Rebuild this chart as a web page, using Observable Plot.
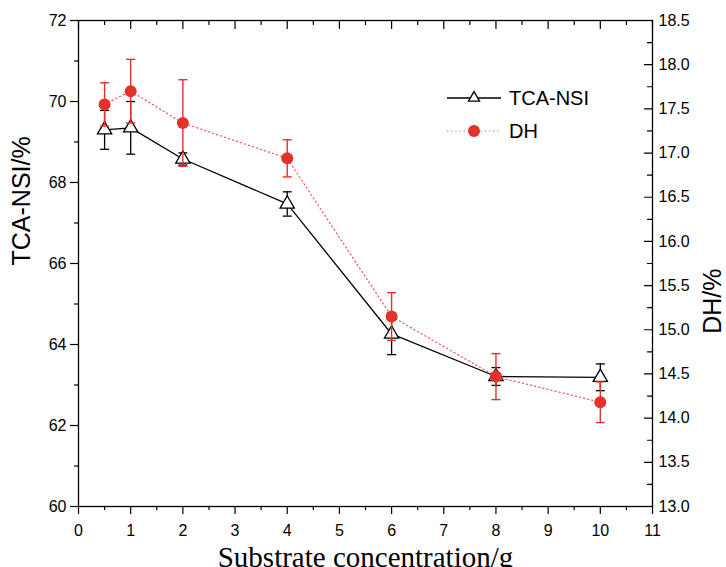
<!DOCTYPE html>
<html>
<head>
<meta charset="utf-8">
<script src="https://cdn.jsdelivr.net/npm/d3@7"></script>
<script src="https://cdn.jsdelivr.net/npm/@observablehq/plot@0.6"></script>
<style>
  html, body { margin: 0; padding: 0; background: #fff; }
  #wrap { position: relative; width: 726px; height: 567px; overflow: hidden; }
  #legend { position: absolute; left: 0; top: 0; pointer-events: none; }
</style>
</head>
<body>
<div id="wrap"></div>
<script>
// ---- data ----
const concentration = [0.5, 1, 2, 4, 6, 8, 10];
const tcaNsi    = [69.30, 69.35, 68.58, 67.47, 64.26, 63.21, 63.19];
const tcaNsiErr = [0.48, 0.65, 0.15, 0.30, 0.51, 0.22, 0.33];
const dhValues  = [17.55, 17.70, 17.34, 16.94, 15.15, 14.47, 14.18];
const dhErr     = [0.245, 0.36, 0.49, 0.21, 0.27, 0.26, 0.23];

const xMajorTicks = [0,1,2,3,4,5,6,7,8,9,10,11];
const xMinorTicks = [0.5,1.5,2.5,3.5,4.5,5.5,6.5,7.5,8.5,9.5,10.5];
const leftMajorTicks = [60,62,64,66,68,70,72];
const leftMinorTicks = [61,63,65,67,69,71];
const rightMajorTicks = [13.0,13.5,14.0,14.5,15.0,15.5,16.0,16.5,17.0,17.5,18.0,18.5];
const rightMinorTicks = [13.25,13.75,14.25,14.75,15.25,15.75,16.25,16.75,17.25,17.75,18.25];

const leftDomain = [60, 72];
const rightDomain = [13.0, 18.5];

// map right-axis (DH) values onto the left scale
const toLeft = v => leftDomain[0] + (v - rightDomain[0]) * (leftDomain[1] - leftDomain[0]) / (rightDomain[1] - rightDomain[0]);
const fromLeft = v => rightDomain[0] + (v - leftDomain[0]) * (rightDomain[1] - rightDomain[0]) / (leftDomain[1] - leftDomain[0]);

const tca = concentration.map((x, i) => ({x, v: tcaNsi[i], e: tcaNsiErr[i]}));
const dh  = concentration.map((x, i) => ({x, v: dhValues[i], e: dhErr[i]}));

const RED = "#e2322a";
const FONT = "'Liberation Sans', Arial, sans-serif";

const tickShape = {draw(context, l) { context.moveTo(0, 0); context.lineTo(0, -l); }};
const capSymbol = {draw(context, size) { const r = Math.sqrt(size / Math.PI); context.moveTo(-r, 0); context.lineTo(r, 0); }};

const chart = Plot.plot({
  width: 726, height: 567,
  marginTop: 20, marginRight: 74, marginBottom: 61, marginLeft: 78,
  x: {domain: [0, 11]},
  y: {domain: leftDomain},
  style: {fontFamily: FONT, fontSize: "16px", color: "black", background: "white"},
  marks: [
    // bottom axis
    Plot.axisX(xMajorTicks, {anchor: "bottom", tickSize: 8, tickPadding: 10, fontSize: 16, label: null, strokeWidth: 1.2}),
    Plot.axisX(xMinorTicks, {anchor: "bottom", tickSize: 4, tickFormat: () => "", label: null, strokeWidth: 1.2}),
    // top inward ticks
    Plot.vector(xMajorTicks, {x: d => d, frameAnchor: "top", length: 8, rotate: 180, anchor: "start", shape: tickShape, stroke: "black", strokeWidth: 1.2}),
    Plot.vector(xMinorTicks, {x: d => d, frameAnchor: "top", length: 4, rotate: 180, anchor: "start", shape: tickShape, stroke: "black", strokeWidth: 1.2}),
    // left axis
    Plot.axisY(leftMajorTicks, {anchor: "left", tickSize: 8, tickPadding: 4, fontSize: 16, label: null, strokeWidth: 1.2}),
    Plot.axisY(leftMinorTicks, {anchor: "left", tickSize: 4, tickFormat: () => "", label: null, strokeWidth: 1.2}),
    // right axis (DH)
    Plot.axisY(rightMajorTicks.map(toLeft), {anchor: "right", tickSize: 0, tickPadding: 6, fontSize: 16, label: null, tickFormat: d => fromLeft(d).toFixed(1)}),
    Plot.vector(rightMajorTicks.map(toLeft), {y: d => d, frameAnchor: "right", length: 8, rotate: 270, anchor: "start", shape: tickShape, stroke: "black", strokeWidth: 1.2}),
    Plot.vector(rightMinorTicks.map(toLeft), {y: d => d, frameAnchor: "right", length: 5, rotate: 270, anchor: "start", shape: tickShape, stroke: "black", strokeWidth: 1.2}),
    Plot.frame({stroke: "black", strokeWidth: 1.3}),

    // TCA-NSI series
    Plot.ruleX(tca, {x: "x", y1: d => d.v - d.e, y2: d => d.v + d.e, stroke: "black", strokeWidth: 1.3}),
    Plot.dot(tca, {x: "x", y: d => d.v + d.e, symbol: capSymbol, r: 4.5, stroke: "black", fill: "none", strokeWidth: 1.3}),
    Plot.dot(tca, {x: "x", y: d => d.v - d.e, symbol: capSymbol, r: 4.5, stroke: "black", fill: "none", strokeWidth: 1.3}),
    Plot.line(tca, {x: "x", y: "v", stroke: "black", strokeWidth: 1.3}),
    Plot.dot(tca, {x: "x", y: "v", symbol: "triangle", r: 5.3, stroke: "black", fill: "white", strokeWidth: 1.3}),

    // DH series (mapped to left scale)
    Plot.line(dh, {x: "x", y: d => toLeft(d.v), stroke: RED, strokeOpacity: 0.8, strokeWidth: 1.2, strokeDasharray: "1.2,3"}),
    Plot.ruleX(dh, {x: "x", y1: d => toLeft(d.v - d.e), y2: d => toLeft(d.v + d.e), stroke: RED, strokeWidth: 1.4}),
    Plot.dot(dh, {x: "x", y: d => toLeft(d.v + d.e), symbol: capSymbol, r: 4.5, stroke: RED, fill: "none", strokeWidth: 1.4}),
    Plot.dot(dh, {x: "x", y: d => toLeft(d.v - d.e), symbol: capSymbol, r: 4.5, stroke: RED, fill: "none", strokeWidth: 1.4}),
    Plot.dot(dh, {x: "x", y: d => toLeft(d.v), r: 6, fill: RED, stroke: "none"}),

    // axis titles
    Plot.text(["Substrate concentration/g"], {frameAnchor: "bottom", dy: 60, lineAnchor: "bottom", fontFamily: "'Liberation Serif', 'Times New Roman', serif", fontSize: 29, fill: "black"}),
    Plot.text(["TCA-NSI/%"], {frameAnchor: "left", dx: -57, dy: 2, rotate: -90, lineAnchor: "middle", fontSize: 25, fill: "black"}),
    Plot.text(["DH/%"], {frameAnchor: "right", dx: 60, dy: 5, rotate: -90, lineAnchor: "middle", fontSize: 25, fill: "black"})
  ]
});

const wrap = document.getElementById("wrap");
wrap.appendChild(chart);

// legend overlay
const ns = "http://www.w3.org/2000/svg";
const leg = document.createElementNS(ns, "svg");
leg.setAttribute("id", "legend");
leg.setAttribute("width", 726);
leg.setAttribute("height", 567);
const tri = d3.symbol(d3.symbolTriangle2, Math.PI * 5.3 * 5.3)();
leg.innerHTML = `
  <line x1="447" x2="501" y1="98" y2="98" stroke="black" stroke-width="1.3"/>
  <path d="${tri}" transform="translate(474,98)" fill="white" stroke="black" stroke-width="1.3"/>
  <text x="509" y="98" dy="0.35em" font-family="${FONT}" font-size="20" fill="black">TCA-NSI</text>
  <line x1="447" x2="501" y1="131" y2="131" stroke="${RED}" stroke-opacity="0.8" stroke-width="1.2" stroke-dasharray="1.2,3"/>
  <circle cx="474" cy="131" r="6" fill="${RED}"/>
  <text x="509" y="131" dy="0.35em" font-family="${FONT}" font-size="20" fill="black">DH</text>
`;
wrap.appendChild(leg);
</script>
</body>
</html>
